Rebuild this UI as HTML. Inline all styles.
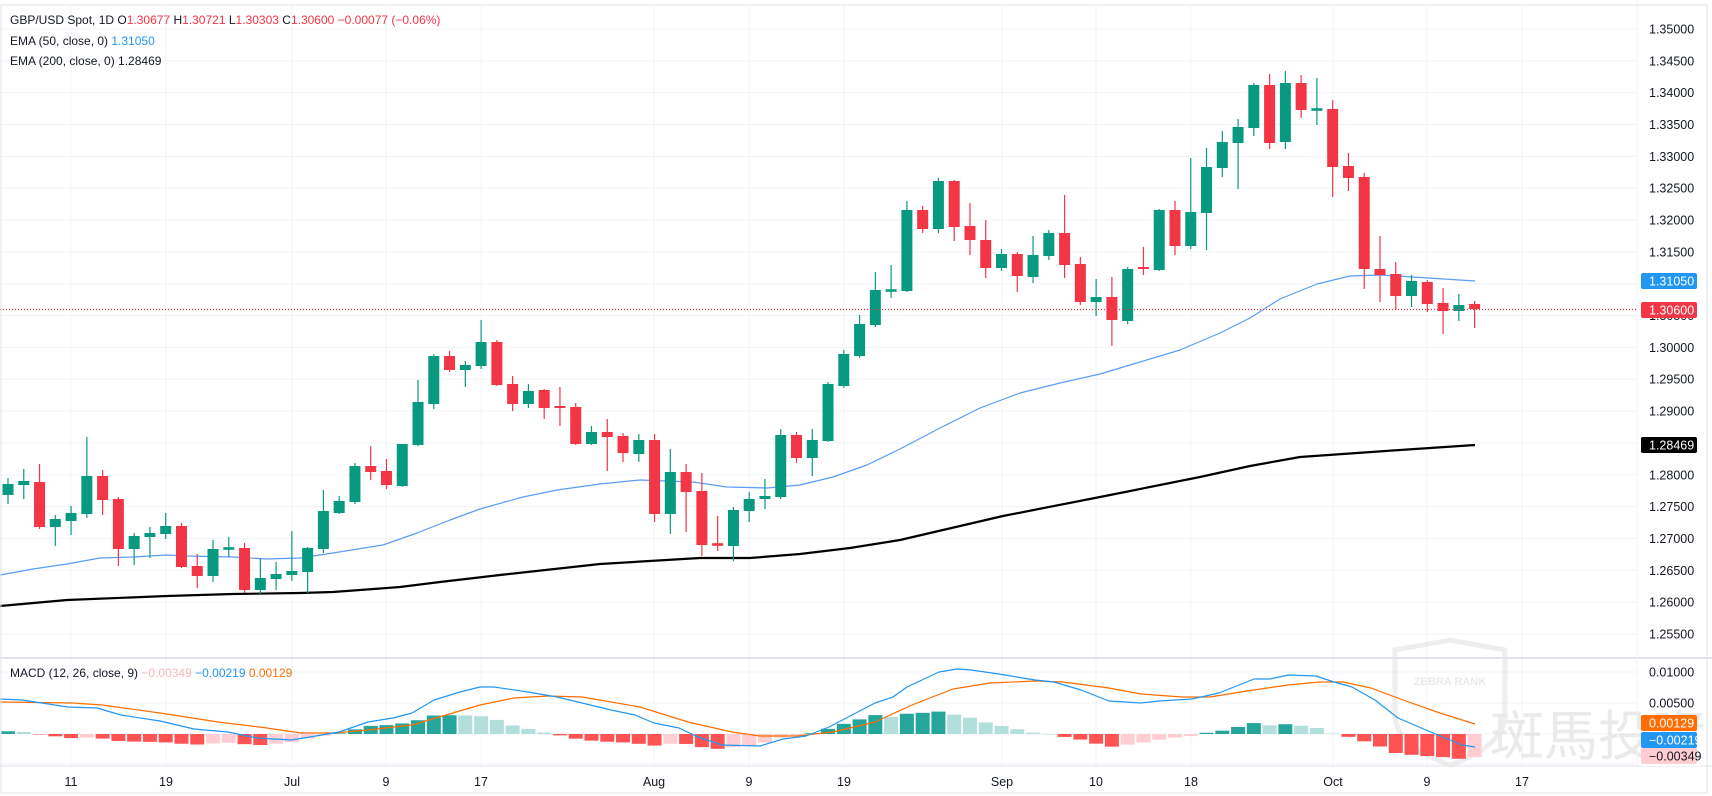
<!DOCTYPE html>
<html><head><meta charset="utf-8"><style>
html,body{margin:0;padding:0;background:#fff;}
svg{display:block;font-family:"Liberation Sans","Noto Sans CJK SC",sans-serif;}
</style></head><body>
<svg id="c" width="1712" height="796" xmlns="http://www.w3.org/2000/svg">
<rect x="0" y="0" width="1712" height="796" fill="#fff"/>
<g id="grid"></g>
<g id="wm" opacity="0.3">
<path d="M1395 650 L1450 640 L1505 650 L1505 715 Q1505 745 1450 765 Q1395 745 1395 715 Z" fill="none" stroke="#c8c8c8" stroke-width="5"/>
<text x="1450" y="685" font-size="11" fill="#bbb" text-anchor="middle" font-weight="bold">ZEBRA RANK</text>
<text x="1490" y="755" font-size="54" fill="#bdbdbd" font-family="'Noto Sans CJK TC','WenQuanYi Zen Hei',sans-serif">斑馬投資</text>
</g>
<g id="plot"></g>
<g id="axis"></g>
<text x="10" y="24" font-size="12" fill="#131722">GBP/USD Spot, 1D  <tspan fill="#131722">O</tspan><tspan fill="#f23645">1.30677</tspan> <tspan>H</tspan><tspan fill="#f23645">1.30721</tspan> <tspan>L</tspan><tspan fill="#f23645">1.30303</tspan> <tspan>C</tspan><tspan fill="#f23645">1.30600 −0.00077 (−0.06%)</tspan></text>
<text x="10" y="45" font-size="12" fill="#131722">EMA (50, close, 0) <tspan fill="#2196f3">1.31050</tspan></text>
<text x="10" y="65" font-size="12" fill="#131722">EMA (200, close, 0) <tspan fill="#131722">1.28469</tspan></text>
<text x="10" y="677" font-size="12" fill="#131722">MACD (12, 26, close, 9) <tspan fill="#f7b7bd">−0.00349</tspan> <tspan fill="#2196f3">−0.00219</tspan> <tspan fill="#ff6d00">0.00129</tspan></text>
</svg>
<script>
var NS="http://www.w3.org/2000/svg";
function el(p,t,a,txt){var e=document.createElementNS(NS,t);for(var k in a)e.setAttribute(k,a[k]);if(txt!=null)e.textContent=txt;p.appendChild(e);return e;}
var grid=document.getElementById('grid'),plot=document.getElementById('plot'),axis=document.getElementById('axis');
var R=1637;
for(var k=0;k<=19;k++){var y=29+k*31.84;el(grid,'line',{x1:0,x2:R,y1:y,y2:y,stroke:'#f0f3fa','stroke-width':1});
 var p=(1.35-k*0.005).toFixed(5);el(axis,'text',{x:1649,y:y+4.5,'font-size':12.5,fill:'#131722'},p);}
[672,703,734,764].forEach(function(y){el(grid,'line',{x1:0,x2:R,y1:y,y2:y,stroke:'#f0f3fa','stroke-width':1});});
el(axis,'text',{x:1649,y:676.5,'font-size':12.5,fill:'#131722'},'0.01000');
el(axis,'text',{x:1649,y:707.5,'font-size':12.5,fill:'#131722'},'0.00500');
var tl=[[71,'11'],[166,'19'],[292,'Jul'],[386,'9'],[481,'17'],[654,'Aug'],[749,'9'],[844,'19'],[1002,'Sep'],[1096,'10'],[1191,'18'],[1333,'Oct'],[1427,'9'],[1522,'17']];
tl.forEach(function(t){el(grid,'line',{x1:t[0],x2:t[0],y1:6,y2:766,stroke:'#f0f3fa','stroke-width':1});
 el(axis,'text',{x:t[0],y:786,'font-size':12.5,fill:'#131722','text-anchor':'middle'},t[1]);});
el(axis,'line',{x1:0,x2:1712,y1:658,y2:658,stroke:'#e0e3eb','stroke-width':2});
el(axis,'line',{x1:0,x2:1712,y1:766,y2:766,stroke:'#e0e3eb','stroke-width':1});
el(axis,'line',{x1:R,x2:R,y1:0,y2:766,stroke:'#f0f3fa','stroke-width':1});
el(axis,'rect',{x:1,y:5,width:1706,height:788,fill:'none',stroke:'#e0e3eb','stroke-width':1});
var C=[[495,478,504,484],[485,469,499,481],[482,464,529,527],[527,515,546,519],[521,506,535,513],[514,437,518,476],[476,470,515,500],[499,497,566,549],[549,533,565,536],[537,527,558,533],
[534,513,539,526],[526,523,568,567],[566,554,588,576],[576,540,582,549],[549,537,557,548],[548,543,593,590],[590,558,594,578],[579,562,590,574],[575,531,581,571],[572,547,593,548],
[549,490,553,511],[513,496,514,501],[502,463,504,466],[466,446,480,472],[471,459,489,485],[486,444,487,444],[445,380,446,402],[404,354,409,356],[356,351,372,370],[370,361,387,365],
[366,320,369,342],[342,340,386,385],[384,376,411,404],[404,384,408,391],[390,389,419,408],[406,387,426,408],[407,403,445,444],[444,426,445,432],[432,419,471,437],[436,433,462,453],
[454,434,462,440],[440,434,522,514],[514,449,534,472],[472,464,532,492],[491,473,556,545],[544,516,551,545],[546,507,561,510],[511,492,522,499],[499,479,509,496],[497,429,499,435],
[435,432,463,458],[458,429,476,440],[441,382,442,384],[386,350,388,354],[356,315,358,324],[325,272,327,290],[291,265,298,290],[291,201,292,210],[210,206,233,229],[229,178,233,181],
[181,180,241,227],[226,203,255,240],[240,220,278,268],[268,249,271,254],[254,252,292,276],[277,236,283,255],[256,230,260,233],[233,195,278,265],[264,257,305,302],[302,279,316,297],
[297,277,346,320],[321,267,324,269],[267,247,275,269],[270,209,271,210],[210,201,255,246],[246,158,249,212],[213,148,250,167],[168,131,177,142],[143,119,189,127],[128,83,136,85],
[85,74,149,143],[142,71,149,83],[83,75,118,110],[110,78,125,109],[109,100,197,167],[166,153,191,178],[177,173,289,269],[269,236,302,275],[274,262,310,296],[296,275,307,281],
[282,280,312,304],[303,288,334,311],[311,294,321,305],[304,301,328,309]];
function X(i){return 8+i*15.77;}
function poly(pts,stroke,w){el(plot,'polyline',{points:pts.map(function(p){return p[0]+','+p[1];}).join(' '),fill:'none',stroke:stroke,'stroke-width':w,'stroke-linejoin':'round'});}
poly([[0,606],[67,600],[167,596],[233,594],[300,593],[333,592],[400,587],[440,582],[500,575],[600,564],[700,558],[750,558],[800,554],[850,548],[900,540],[1003,516],[1100,497],[1200,477],[1250,466],[1300,457],[1400,450],[1475,445]],'#000',2.2);
poly([[0,575],[33,569],[67,564],[100,558],[133,557],[167,555],[187,556],[233,557],[267,559],[300,558],[333,553],[383,545],[417,533],[450,520],[480,509],[523,497],[557,490],[600,484],[640,480],[693,482],[727,487],[767,488],[800,485],[833,477],[867,465],[900,449],[940,428],[980,408],[1020,393],[1060,383],[1100,374],[1140,362],[1180,350],[1220,333],[1250,318],[1280,299],[1317,284],[1350,276],[1380,275],[1413,277],[1475,281]],'#5b9cf6',1.2);
C.forEach(function(c,i){var x=X(i),o=c[0],h=c[1],l=c[2],cl=c[3];var up=cl<=o;var col=up?'#089981':'#f23645';
 el(plot,'line',{x1:x,x2:x,y1:h,y2:l,stroke:col,'stroke-width':1.2});
 var t=Math.min(o,cl),b=Math.max(o,cl);if(b-t<1.5){t-=0.8;b+=0.8;}
 el(plot,'rect',{x:x-5.5,y:t,width:11,height:b-t,fill:col});});
el(plot,'line',{x1:0,x2:R,y1:309.5,y2:309.5,stroke:'#e0303f','stroke-width':1.3,'stroke-dasharray':'1,2'});
var M=[[0,699],[22,700],[68,707],[97,708],[121,715],[160,721],[194,729],[228,732],[257,738],[291,740],[310,737],[339,732],[368,722],[393,718],[412,713],[434,700],[460,692],[480,687],[494,687],[528,692],[557,697],[582,703],[611,710],[635,715],[654,723],[679,728],[698,737],[722,745],[760,746],[783,739],[806,736],[829,727],[852,715],[875,703],[893,697],[907,687],[939,672],[957,669],[971,670],[999,674],[1035,680],[1054,682],[1081,690],[1109,701],[1141,703],[1159,701],[1192,699],[1219,693],[1254,679],[1270,679],[1288,675],[1316,676],[1334,682],[1352,687],[1375,700],[1398,718],[1426,730],[1462,745],[1475,747]];
var S=[[0,702],[73,703],[102,705],[160,713],[218,722],[267,728],[301,733],[334,733],[368,730],[412,725],[446,715],[480,705],[514,698],[548,696],[582,697],[640,707],[688,722],[732,732],[760,736],[797,736],[833,732],[875,722],[912,705],[953,689],[990,683],[1035,681],[1063,682],[1109,688],[1141,694],[1182,697],[1210,697],[1247,691],[1288,685],[1320,682],[1343,682],[1371,688],[1403,700],[1440,713],[1475,724]];
function interp(a,x){for(var i=1;i<a.length;i++){if(x<=a[i][0]){var t=(x-a[i-1][0])/(a[i][0]-a[i-1][0]);return a[i-1][1]+t*(a[i][1]-a[i-1][1]);}}return a[a.length-1][1];}
var prev=null;
for(var i=0;i<C.length;i++){var x=X(i);var h=interp(S,x)-interp(M,x);var col;
 if(h>=0){col=(prev==null||h>=prev)?'#26a69a':'#b2dfdb';}else{col=(prev==null||h<=prev)?'#ff5252':'#ffcdd2';}
 prev=h;var y=h>=0?734-h:734;el(plot,'rect',{x:x-7,y:y,width:14,height:Math.max(Math.abs(h),0.5),fill:col});}
poly(S,'#ff6d00',1.2);
poly(M,'#2196f3',1.2);
function lab(y,txt,bg,fg){el(axis,'rect',{x:1641,y:y-8,width:56,height:16,fill:bg,rx:2});el(axis,'text',{x:1649,y:y+4.5,'font-size':12.5,fill:fg},txt);}
el(axis,'rect',{x:1640,y:760,width:60,height:6,fill:'#fff'});
lab(281,'1.31050','#2196f3','#fff');
lab(310,'1.30600','#f23645','#fff');
lab(445,'1.28469','#000','#fff');
lab(723,'0.00129','#ff6d00','#fff');
lab(740,'−0.00219','#2196f3','#fff');
lab(756,'−0.00349','#ffcdd2','#131722');
</script>
</body></html>
